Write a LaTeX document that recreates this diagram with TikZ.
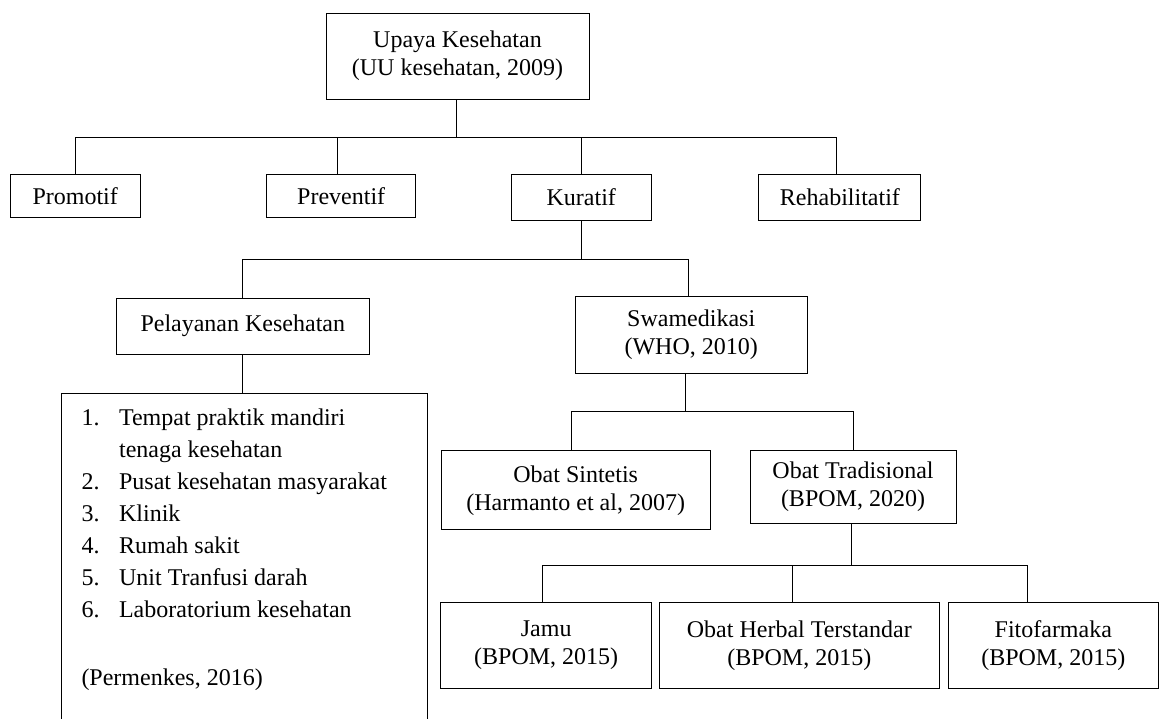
\documentclass[tikz,border=0pt]{standalone}
\usepackage{fontspec}
\setmainfont{Liberation Serif}
\usetikzlibrary{positioning,calc}

\begin{document}
\begin{tikzpicture}[
            x=0.5pt, y=-0.5pt,
            line width=0.5pt,
            kotak/.style={draw, align=center, inner sep=0pt, font=\fontsize{12}{14}\selectfont},
            daftarteks/.style={anchor=north west, inner sep=0pt, font=\fontsize{12}{16}\selectfont}
        ]
\useasboundingbox (0,0) rectangle (1166,718);

% --- puncak ---
            \node[kotak, minimum width=131.5pt, minimum height=43pt] (upaya) at (457.5,56) {Upaya Kesehatan\\(UU kesehatan, 2009)};

% --- tingkat 1 ---
            \node[kotak, minimum width=65pt, minimum height=21.7pt] (promotif) at (75.2,196) {Promotif};
            \node[kotak, minimum width=74.5pt, minimum height=21.7pt] (preventif) at (341.2,196) {Preventif};
            \node[kotak, minimum width=69.8pt, minimum height=22.9pt] (kuratif) at (581.3,197.2) {Kuratif};
            \node[kotak, minimum width=81pt, minimum height=22.9pt] (rehab) at (839.9,197.2) {Rehabilitatif};

% --- tingkat 2 ---
            \node[kotak, minimum width=126.5pt, minimum height=27.85pt] (pelayanan) at (242.8,326.2) {Pelayanan Kesehatan};
            \node[kotak, minimum width=116.2pt, minimum height=38.65pt] (swamedikasi) at (691.2,334.7) {Swamedikasi\\(WHO, 2010)};

% --- daftar fasilitas ---
            \node[minimum width=182.65pt, minimum height=162.35pt, inner sep=0pt, anchor=north west] (bingkai) at (61.2,393.3) {};
            \node[daftarteks] (daftar) at ([shift={(19.8,9.3)}]bingkai.north west) {%
                \begin{tabular}{@{}p{18.8pt}@{}l@{}}
                1. & Tempat praktik mandiri\\
                   & tenaga kesehatan\\
                2. & Pusat kesehatan masyarakat\\
                3. & Klinik\\
                4. & Rumah sakit\\
                5. & Unit Tranfusi darah\\
                6. & Laboratorium kesehatan\\[2pt]
                   & \\
                \multicolumn{2}{@{}l@{}}{(Permenkes, 2016)}
                \end{tabular}};

% --- tingkat 3 ---
            \node[kotak, minimum width=134.65pt, minimum height=39.65pt] (sintetis) at (575.7,490.3) {Obat Sintetis\\(Harmanto et al, 2007)};
            \node[kotak, minimum width=103pt, minimum height=36.3pt] (tradisional) at (853,487) {Obat Tradisional\\(BPOM, 2020)};

% --- tingkat 4 ---
            \node[kotak, minimum width=105.5pt, minimum height=42.8pt] (jamu) at (546.2,645.5) {Jamu\\(BPOM, 2015)};
            \node[kotak, minimum width=140pt, minimum height=42.8pt] (herbal) at (799.3,645.5) {Obat Herbal Terstandar\\(BPOM, 2015)};
            \node[kotak, minimum width=105pt, minimum height=42.8pt] (fito) at (1053.3,645.5) {Fitofarmaka\\(BPOM, 2015)};

% --- garis upaya ---
            \draw ([xshift=-0.5pt]upaya.south) -- ++(0,37.7) coordinate (bus1);
            \draw (promotif.north) |- (bus1);
            \draw ([xshift=-1.95pt]preventif.north) |- (bus1);
            \draw (kuratif.north) |- (bus1);
            \draw ([xshift=-1.8pt]rehab.north) |- (bus1);

% --- garis kuratif ---
            \draw (kuratif.south) -- ++(0,38.7) coordinate (bus2);
            \draw (pelayanan.north) |- (bus2);
            \draw ([xshift=-1.5pt]swamedikasi.north) |- (bus2);
            \draw (pelayanan.south) -- (pelayanan.south |- bingkai.north);
            \draw (bingkai.south west) -- (bingkai.north west) -- (bingkai.north east) -- (bingkai.south east);

% --- garis swamedikasi ---
            \draw ([xshift=-2.75pt]swamedikasi.south) -- ++(0,37.4) coordinate (bus3);
            \draw ([xshift=-2pt]sintetis.north) |- (bus3);
            \draw (tradisional.north) |- (bus3);

% --- garis obat tradisional ---
            \draw ([xshift=-0.65pt]tradisional.south) -- ++(0,42) coordinate (bus4);
            \draw ([xshift=-1.75pt]jamu.north) |- (bus4);
            \draw ([xshift=-3.5pt]herbal.north) |- (bus4);
            \draw ([xshift=-12.8pt]fito.north) |- (bus4);

        \end{tikzpicture}
\end{document}
